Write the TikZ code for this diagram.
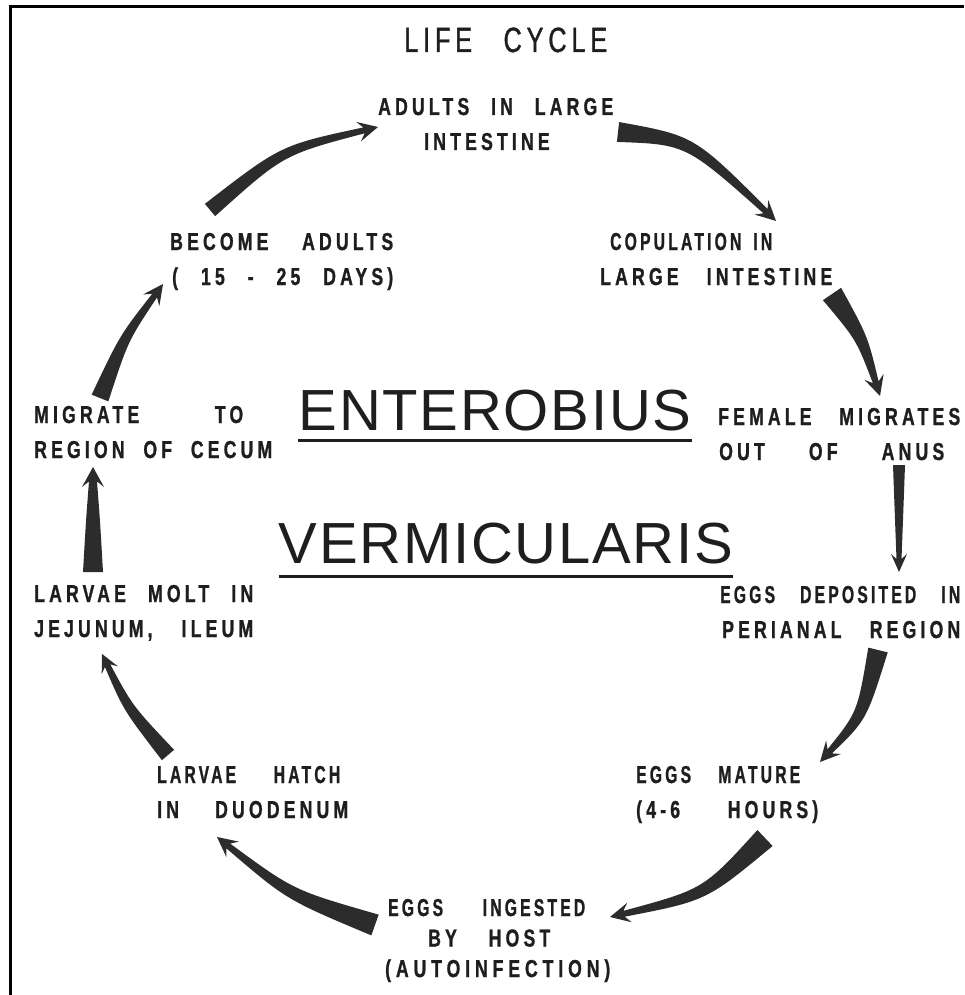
\documentclass[tikz,border=0pt]{standalone}
\usepackage{fontspec}
\setmainfont{Liberation Sans}
\newfontfamily\labfont{Liberation Sans Bold}[FakeStretch=0.72,LetterSpace=17,WordSpace={1,1,0.6},FakeBold=1]
\newfontfamily\labnarrow{Liberation Sans Bold}[FakeStretch=0.64,LetterSpace=13,WordSpace={1,1,0.6},FakeBold=1]
\newfontfamily\labwide{Liberation Sans Bold}[FakeStretch=0.72,LetterSpace=20,WordSpace={1,1,0.6},FakeBold=1]
\newfontfamily\titfont{Liberation Sans}[FakeStretch=0.72,LetterSpace=14,WordSpace=2,FakeBold=1]
\newfontfamily\bigfont{Liberation Sans}[LetterSpace=3]
\usetikzlibrary{calc}
\definecolor{ink}{HTML}{1E1E1E}
\definecolor{arrowink}{HTML}{2C2C2C}
\newsavebox\fitbox
% set a line to a given width by widening the word gaps; a line that is too wide is set narrower
\newcommand{\fitline}[2]{\sbox\fitbox{#2}%
  \ifdim\wd\fitbox>#1\relax\makebox[#1][s]{\labnarrow #2}\else\makebox[#1][s]{#2}\fi}
\newcommand{\fitnarrow}[2]{\makebox[#1][s]{\labnarrow #2}}
% #1 tail, #2 control, #3 tip, #4 tail half width, #5 neck half width,
% #6 head half width, #7 head length, #8 control offset
\newcommand{\tarrow}[8]{%
  \coordinate (nk) at ($(#3)!#7!(#2)$);
  \coordinate (nj) at ($(#3)!0.72*#7!(#2)$);
  \fill[arrowink] ($(#1)!#4!90:(#2)$) .. controls ($(#2)!#8!90:(#3)$) .. ($(nj)!#5!90:(#3)$)
    -- ($(nk)!#6!90:(#3)$) -- (#3) -- ($(nk)!#6!-90:(#3)$) -- ($(nj)!#5!-90:(#3)$)
    .. controls ($(#2)!#8!-90:(#3)$) .. ($(#1)!#4!-90:(#2)$) -- cycle;
}
\begin{document}
\begin{tikzpicture}[x=1pt,y=-1pt,
  lab/.style={font=\labfont\fontsize{24.5}{35}\selectfont, align=left, text=ink, inner sep=0pt, anchor=base west},
  big/.style={font=\bigfont\fontsize{58}{60}\selectfont, text=ink, inner sep=0pt},
  frame/.style={line width=3pt, draw=black},
  uline/.style={line width=3pt, draw=ink}]
\useasboundingbox (0,0) rectangle (964,995);
\fill[white] (0,0) rectangle (964,995);
\draw[frame] (10,995) -- (10,7) -- (964,7);

\node[lab, font=\titfont\fontsize{35}{35}\selectfont] (title) at (404,52) {\fitline{203pt}{LIFE CYCLE}};

% anchor = baseline of the last line
\node[lab] (adults)  at (378,150) {\fitline{235pt}{ADULTS IN LARGE}\\\hspace*{46pt}INTESTINE};
\node[lab] (copul)   at (600,285) {\hspace*{10pt}\fitline{162pt}{COPULATION IN}\\\fitline{232pt}{LARGE INTESTINE}};
\node[lab] (female)  at (718,460) {\fitline{242pt}{FEMALE MIGRATES}\\\hspace*{1pt}\fitline{225pt}{OUT OF ANUS}};
\node[lab] (depos)   at (720,638) {\fitnarrow{240pt}{EGGS DEPOSITED IN}\\\hspace*{2pt}\fitline{238pt}{PERIANAL REGION}};
\node[lab] (mature)  at (636,818) {\fitline{164pt}{EGGS MATURE}\\\fitline{182pt}{(4-6 HOURS)}};
\node[lab, font=\labfont\fontsize{24.5}{30.5}\selectfont] (ingest) at (385,977) {\hspace*{3pt}\fitnarrow{197pt}{EGGS INGESTED}\\\hspace*{43pt}\fitline{122pt}{BY HOST}\\{\labwide (AUTOINFECTION)}};
\node[lab] (hatch)   at (157,818) {\fitnarrow{183pt}{LARVAE HATCH}\\\fitline{191pt}{IN DUODENUM}};
\node[lab] (molt)    at (34,637)  {\fitline{219pt}{LARVAE MOLT IN}\\\fitline{219pt}{JEJUNUM, ILEUM}};
\node[lab] (migrate) at (34,458)  {\fitline{209pt}{MIGRATE TO}\\\fitline{238pt}{REGION OF CECUM}};
\node[lab] (become)  at (170,285) {\fitline{223pt}{BECOME ADULTS}\\\hspace*{2pt}\fitline{221pt}{( 15 - 25 DAYS)}};

\node[big] (ent) at (495,411) {ENTEROBIUS};
\node[big] (ver) at (506,544) {VERMICULARIS};
\draw[uline] ($(ent.south west)+(0,9)$) -- ($(ent.south east)+(0,9)$);
\draw[uline] ($(ver.south west)+(0,12)$) -- ($(ver.south east)+(0,12)$);

% arrow end points
\coordinate (a1s) at (210,210); \coordinate (a1c) at (282,150); \coordinate (a1e) at (378,127);
\coordinate (a2s) at (618,132); \coordinate (a2c) at (690,140); \coordinate (a2e) at (776,221);
\coordinate (a3s) at (832,294); \coordinate (a3c) at (862,338); \coordinate (a3e) at (880,396);
\coordinate (a4s) at (899,465); \coordinate (a4c) at (899,520); \coordinate (a4e) at (899,572);
\coordinate (a5s) at (878,650); \coordinate (a5c) at (862,716); \coordinate (a5e) at (820,762);
\coordinate (a6s) at (765,838); \coordinate (a6c) at (705,895); \coordinate (a6e) at (610,917);
\coordinate (a7s) at (375,925); \coordinate (a7c) at (290,895); \coordinate (a7e) at (217,837);
\coordinate (a8s) at (168,755); \coordinate (a8c) at (128,708); \coordinate (a8e) at (102,654);
\coordinate (a9s) at (93,572);  \coordinate (a9c) at (93,520);  \coordinate (a9e) at (93,467);
\coordinate (a10s) at (100,398); \coordinate (a10c) at (124,338); \coordinate (a10e) at (163,284);

\tarrow{a1s}{a1c}{a1e}{8pt}{3pt}{10pt}{20pt}{5pt}
\tarrow{a2s}{a2c}{a2e}{10pt}{3pt}{10pt}{20pt}{6pt}
\tarrow{a3s}{a3c}{a3e}{11pt}{3pt}{10pt}{20pt}{6pt}
\tarrow{a4s}{a4c}{a4e}{6pt}{2.5pt}{8pt}{18pt}{4pt}
\tarrow{a5s}{a5c}{a5e}{10pt}{3pt}{10pt}{20pt}{6pt}
\tarrow{a6s}{a6c}{a6e}{11pt}{3pt}{10pt}{20pt}{6pt}
\tarrow{a7s}{a7c}{a7e}{11pt}{3pt}{10pt}{20pt}{6pt}
\tarrow{a8s}{a8c}{a8e}{8pt}{3pt}{9pt}{18pt}{5pt}
\tarrow{a9s}{a9c}{a9e}{10pt}{4pt}{11pt}{20pt}{7pt}
\tarrow{a10s}{a10c}{a10e}{9pt}{3pt}{10pt}{20pt}{5pt}
\end{tikzpicture}
\end{document}
